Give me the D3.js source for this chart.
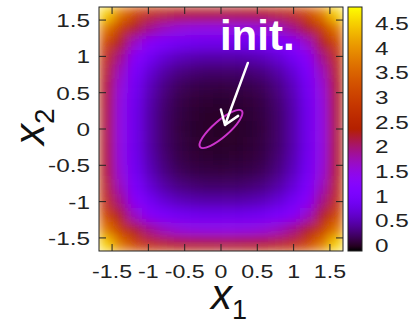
<!DOCTYPE html>
<html>
<head>
<meta charset="utf-8">
<script src="https://cdn.jsdelivr.net/npm/d3@7"></script>
<style>
  body { margin: 0; background: #fff; }
  text { font-family: "Liberation Sans", Arial, sans-serif; fill: #222; }
</style>
</head>
<body>
<svg id="chart" width="411" height="325"></svg>
<script>
// axis ticks
const xTicks = [-1.5, -1, -0.5, 0, 0.5, 1, 1.5];
const yTicks = [-1.5, -1, -0.5, 0, 0.5, 1, 1.5];
const cbTicks = [0, 0.5, 1, 1.5, 2, 2.5, 3, 3.5, 4, 4.5];
const cbRange = [-0.12, 4.82];

// heat map, values (cell centres, rows top -> bottom)
const gridCenters = [-1.581, -1.384, -1.186, -0.988, -0.791, -0.593, -0.395, -0.198, 0,
  0.198, 0.395, 0.593, 0.791, 0.988, 1.186, 1.384, 1.581];
const gridValues = [
  [4.5, 3.7, 3.07, 2.7, 2.47, 2.34, 2.28, 2.26, 2.25, 2.26, 2.28, 2.34, 2.47, 2.7, 3.07, 3.7, 4.5],
  [3.7, 2.9, 2.27, 1.9, 1.67, 1.54, 1.48, 1.46, 1.45, 1.46, 1.48, 1.54, 1.67, 1.9, 2.27, 2.9, 3.7],
  [3.07, 2.27, 1.64, 1.27, 1.04, 0.91, 0.85, 0.82, 0.82, 0.82, 0.85, 0.91, 1.04, 1.27, 1.64, 2.27, 3.07],
  [2.7, 1.9, 1.27, 0.9, 0.67, 0.54, 0.48, 0.45, 0.45, 0.45, 0.48, 0.54, 0.67, 0.9, 1.27, 1.9, 2.7],
  [2.47, 1.67, 1.04, 0.67, 0.44, 0.31, 0.25, 0.22, 0.22, 0.22, 0.25, 0.31, 0.44, 0.67, 1.04, 1.67, 2.47],
  [2.34, 1.54, 0.91, 0.54, 0.31, 0.18, 0.12, 0.1, 0.09, 0.1, 0.12, 0.18, 0.31, 0.54, 0.91, 1.54, 2.34],
  [2.28, 1.48, 0.85, 0.48, 0.25, 0.12, 0.06, 0.04, 0.03, 0.04, 0.06, 0.12, 0.25, 0.48, 0.85, 1.48, 2.28],
  [2.26, 1.46, 0.82, 0.45, 0.22, 0.1, 0.04, 0.01, 0.01, 0.01, 0.04, 0.1, 0.22, 0.45, 0.82, 1.46, 2.26],
  [2.25, 1.45, 0.82, 0.45, 0.22, 0.09, 0.03, 0.01, 0, 0.01, 0.03, 0.09, 0.22, 0.45, 0.82, 1.45, 2.25],
  [2.26, 1.46, 0.82, 0.45, 0.22, 0.1, 0.04, 0.01, 0.01, 0.01, 0.04, 0.1, 0.22, 0.45, 0.82, 1.46, 2.26],
  [2.28, 1.48, 0.85, 0.48, 0.25, 0.12, 0.06, 0.04, 0.03, 0.04, 0.06, 0.12, 0.25, 0.48, 0.85, 1.48, 2.28],
  [2.34, 1.54, 0.91, 0.54, 0.31, 0.18, 0.12, 0.1, 0.09, 0.1, 0.12, 0.18, 0.31, 0.54, 0.91, 1.54, 2.34],
  [2.47, 1.67, 1.04, 0.67, 0.44, 0.31, 0.25, 0.22, 0.22, 0.22, 0.25, 0.31, 0.44, 0.67, 1.04, 1.67, 2.47],
  [2.7, 1.9, 1.27, 0.9, 0.67, 0.54, 0.48, 0.45, 0.45, 0.45, 0.48, 0.54, 0.67, 0.9, 1.27, 1.9, 2.7],
  [3.07, 2.27, 1.64, 1.27, 1.04, 0.91, 0.85, 0.82, 0.82, 0.82, 0.85, 0.91, 1.04, 1.27, 1.64, 2.27, 3.07],
  [3.7, 2.9, 2.27, 1.9, 1.67, 1.54, 1.48, 1.46, 1.45, 1.46, 1.48, 1.54, 1.67, 1.9, 2.27, 2.9, 3.7],
  [4.5, 3.7, 3.07, 2.7, 2.47, 2.34, 2.28, 2.26, 2.25, 2.26, 2.28, 2.34, 2.47, 2.7, 3.07, 3.7, 4.5]
];

// initial distribution annotation
const initEllipse = { cx: 0, cy: 0, a: 0.38, b: 0.11, angle: 41 };
const initArrow = { from: [0.37, 0.91], to: [0.055, 0.055] };
const initLabel = { x: -0.015, y: 1.09, text: 'init.' };

const plot = { left: 99, right: 343, top: 7, bottom: 251 };
const cbar = { left: 348, right: 362 };
const labelStretch = 1.28;

const svg = d3.select('#chart');
const x = d3.scaleLinear().domain([-1.68, 1.68]).range([plot.left, plot.right]);
const y = d3.scaleLinear().domain([-1.68, 1.68]).range([plot.bottom, plot.top]);
const cb = d3.scaleLinear().domain(cbRange).range([plot.bottom, plot.top]);

// gnuplot default palette (rgbformulae 7,5,15)
function palette(v) {
  const t = Math.max(0, Math.min(1, (v - cbRange[0]) / (cbRange[1] - cbRange[0])));
  const r = Math.sqrt(t), g = t * t * t, b = Math.max(0, Math.sin(2 * Math.PI * t));
  return d3.rgb(r * 255, g * 255, b * 255).formatHex();
}

const defs = svg.append('defs');
defs.append('clipPath').attr('id', 'plotclip')
  .append('rect')
  .attr('x', plot.left).attr('y', plot.top)
  .attr('width', plot.right - plot.left).attr('height', plot.bottom - plot.top);

defs.append('filter').attr('id', 'smooth')
  .attr('filterUnits', 'userSpaceOnUse')
  .attr('x', plot.left).attr('y', plot.top)
  .attr('width', plot.right - plot.left).attr('height', plot.bottom - plot.top)
  .append('feGaussianBlur')
  .attr('stdDeviation', 6)
  .attr('edgeMode', 'duplicate');

// heat map cells
const half = (gridCenters[1] - gridCenters[0]) / 2;
const cells = [];
gridValues.forEach((row, i) => {
  row.forEach((v, j) => {
    cells.push({ cx: gridCenters[j], cy: gridCenters[gridCenters.length - 1 - i], v: v });
  });
});

svg.append('g')
  .attr('clip-path', 'url(#plotclip)')
  .append('g')
  .attr('filter', 'url(#smooth)')
  .selectAll('rect')
  .data(cells)
  .enter().append('rect')
  .attr('x', d => x(d.cx - half))
  .attr('y', d => y(d.cy + half))
  .attr('width', d => x(d.cx + half) - x(d.cx - half) + 0.6)
  .attr('height', d => y(d.cy - half) - y(d.cy + half) + 0.6)
  .attr('fill', d => palette(d.v));

// ellipse of the initial distribution
const ell = svg.append('g').attr('clip-path', 'url(#plotclip)');
ell.append('ellipse')
  .attr('transform', `translate(${x(initEllipse.cx)},${y(initEllipse.cy)}) rotate(${-initEllipse.angle})`)
  .attr('rx', x(initEllipse.a) - x(0))
  .attr('ry', x(initEllipse.b) - x(0))
  .attr('fill', 'none')
  .attr('stroke', '#cc33cc')
  .attr('stroke-width', 2);

// arrow + label
const ax0 = x(initArrow.from[0]), ay0 = y(initArrow.from[1]);
const ax1 = x(initArrow.to[0]), ay1 = y(initArrow.to[1]);
const ang = Math.atan2(ay0 - ay1, ax0 - ax1);
const headLen = 16, headAng = 35 * Math.PI / 180;
const arrowPath = d3.path();
arrowPath.moveTo(ax0, ay0);
arrowPath.lineTo(ax1, ay1);
arrowPath.moveTo(ax1 + headLen * Math.cos(ang - headAng), ay1 + headLen * Math.sin(ang - headAng));
arrowPath.lineTo(ax1, ay1);
arrowPath.lineTo(ax1 + headLen * Math.cos(ang + headAng), ay1 + headLen * Math.sin(ang + headAng));
svg.append('path')
  .attr('d', arrowPath.toString())
  .attr('fill', 'none')
  .attr('stroke', '#fff')
  .attr('stroke-width', 2.5)
  .attr('stroke-linecap', 'round')
  .attr('stroke-linejoin', 'round');

svg.append('text')
  .attr('x', x(initLabel.x))
  .attr('y', y(initLabel.y))
  .style('fill', '#fff')
  .style('font-weight', 'bold')
  .style('font-size', '42px')
  .text(initLabel.text);

// frame + ticks
const axes = svg.append('g').attr('stroke', '#222').attr('stroke-width', 1);
axes.append('rect')
  .attr('x', plot.left).attr('y', plot.top)
  .attr('width', plot.right - plot.left).attr('height', plot.bottom - plot.top)
  .attr('fill', 'none');
const tl = 7;
xTicks.forEach(t => {
  axes.append('line').attr('x1', x(t)).attr('x2', x(t)).attr('y1', plot.bottom).attr('y2', plot.bottom - tl);
  axes.append('line').attr('x1', x(t)).attr('x2', x(t)).attr('y1', plot.top).attr('y2', plot.top + tl);
});
yTicks.forEach(t => {
  axes.append('line').attr('y1', y(t)).attr('y2', y(t)).attr('x1', plot.left).attr('x2', plot.left + tl);
  axes.append('line').attr('y1', y(t)).attr('y2', y(t)).attr('x1', plot.right).attr('x2', plot.right - tl);
});

// tick labels (wide, as in the source)
function stretchedLabel(px, py, anchor, txt, sx) {
  svg.append('g')
    .attr('transform', `translate(${px},${py}) scale(${sx || labelStretch},1)`)
    .append('text')
    .attr('text-anchor', anchor)
    .style('font-size', '19px')
    .text(txt);
}
xTicks.forEach(t => stretchedLabel(x(t), 278, 'middle', String(t), 1.22));
yTicks.forEach(t => stretchedLabel(90, y(t) + 7, 'end', String(t)));

// colour bar
const grad = defs.append('linearGradient').attr('id', 'cbgrad')
  .attr('x1', 0).attr('y1', 1).attr('x2', 0).attr('y2', 0);
d3.range(0, 1.0001, 0.02).forEach(f => {
  grad.append('stop').attr('offset', f)
    .attr('stop-color', palette(cbRange[0] + f * (cbRange[1] - cbRange[0])));
});
svg.append('rect')
  .attr('x', cbar.left).attr('y', plot.top)
  .attr('width', cbar.right - cbar.left).attr('height', plot.bottom - plot.top)
  .attr('fill', 'url(#cbgrad)')
  .attr('stroke', '#222');
cbTicks.forEach(t => {
  axes.append('line').attr('y1', cb(t)).attr('y2', cb(t)).attr('x1', cbar.left).attr('x2', cbar.left + 5);
  axes.append('line').attr('y1', cb(t)).attr('y2', cb(t)).attr('x1', cbar.right).attr('x2', cbar.right - 5);
  stretchedLabel(375, cb(t) + 7, 'start', String(t));
});

// axis titles
const xt = svg.append('text').attr('x', 211).attr('y', 309).style('fill', '#111');
xt.append('tspan').style('font-style', 'italic').style('font-size', '42px').text('x');
xt.append('tspan').attr('dy', 10).style('font-size', '27px').text('1');

const yt = svg.append('text').attr('transform', 'translate(44,145) rotate(-90)').style('fill', '#111');
yt.append('tspan').style('font-style', 'italic').style('font-size', '42px').text('x');
yt.append('tspan').attr('dy', 10).style('font-size', '28px').text('2');
</script>
</body>
</html>
